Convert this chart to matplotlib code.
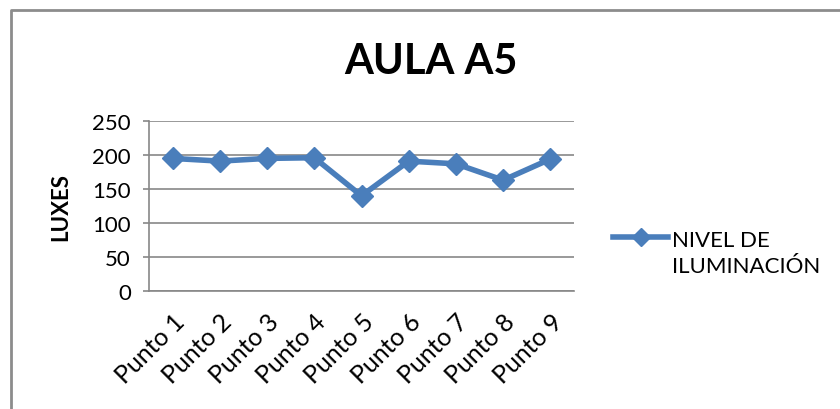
import matplotlib
matplotlib.use("Agg")
import matplotlib.pyplot as plt
from matplotlib.lines import Line2D

categories = ["Punto 1", "Punto 2", "Punto 3", "Punto 4", "Punto 5",
              "Punto 6", "Punto 7", "Punto 8", "Punto 9"]
luxes = [195, 191, 195, 196, 140, 191, 187, 163, 194]
y_ticks = [0, 50, 100, 150, 200, 250]

blue = "#4A7EBB"
grid_gray = "#878787"
plt.rcParams["font.family"] = ["Lato", "DejaVu Sans"]
fs = 16

fig = plt.figure(figsize=(8.4, 4.1), dpi=100)
ax = fig.add_axes([149 / 840, 1 - 292 / 410, 425 / 840, 170 / 410])

x = list(range(len(categories)))
ax.plot(x, luxes, color=blue, linewidth=4.0, marker="D", markersize=11,
        markeredgecolor=blue, markerfacecolor=blue, solid_joinstyle="miter")

ax.set_xlim(-0.5, len(categories) - 0.5)
ax.set_ylim(0, 250)
ax.set_yticks(y_ticks)
ax.set_yticklabels([str(v) for v in y_ticks], fontsize=fs)
ax.yaxis.grid(True, color=grid_gray, linewidth=1.2)
ax.set_axisbelow(True)
ax.tick_params(axis="y", length=4, color=grid_gray, width=1.2, pad=9)
ax.tick_params(axis="x", length=0, pad=13)
ax.set_xticks(x)
ax.set_xticklabels(categories, rotation=45, ha="right",
                   rotation_mode="anchor", fontsize=18)

for side in ("top", "right"):
    ax.spines[side].set_visible(False)
for side in ("left", "bottom"):
    ax.spines[side].set_color(grid_gray)
    ax.spines[side].set_linewidth(1.2)

ax.set_ylabel("LUXES", fontsize=fs, fontweight="bold", labelpad=15)

fig.text(431 / 840, 1 - 62 / 410, "AULA A5", fontsize=30, fontweight="bold",
         ha="center", va="center")

# legend entry drawn on the figure
fig.add_artist(Line2D([613 / 840, 668 / 840], [1 - 238 / 410, 1 - 238 / 410],
                      color=blue, linewidth=4.0, transform=fig.transFigure))
fig.add_artist(Line2D([641 / 840], [1 - 238 / 410], color=blue, marker="D",
                      markersize=9, linestyle="none",
                      transform=fig.transFigure))
fig.text(672 / 840, 1 - 254 / 410, "NIVEL DE\nILUMINACIÓN", fontsize=fs,
         ha="left", va="center", linespacing=1.35)

# chart frame
fig.add_artist(Line2D([10.5 / 840, 10.5 / 840, 1.0], [0, 1 - 10.5 / 410, 1 - 10.5 / 410],
                      color="#8C8C8C", linewidth=2.0, transform=fig.transFigure))

fig.savefig("out.png", dpi=100, facecolor="white")
